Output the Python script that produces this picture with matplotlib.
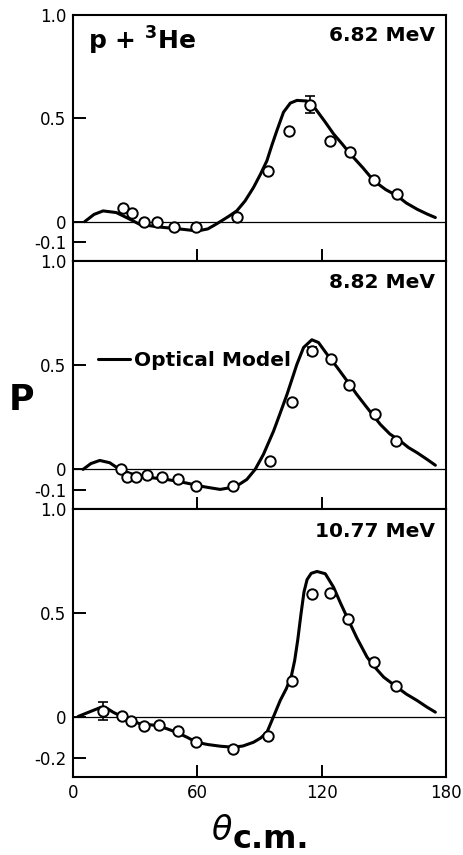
import matplotlib.pyplot as plt

# measured polarization data, theta c.m. in degrees
energies = ['6.82 MeV', '8.82 MeV', '10.77 MeV']

th_682 = [23.9, 28.5, 34.2, 40.3, 48.9, 59.5, 79.2, 93.9, 104.5, 114.2, 123.9, 133.9, 145.2, 156.5]
p_682 = [0.065, 0.044, -0.003, 0.0, -0.026, -0.026, 0.023, 0.247, 0.44, 0.565, 0.39, 0.337, 0.2, 0.135]
err_682 = [0, 0, 0, 0, 0, 0, 0, 0, 0, 0.04, 0, 0, 0, 0]

th_882 = [23.1, 26.0, 30.5, 35.8, 42.7, 50.6, 59.5, 77.3, 95.2, 105.5, 115.2, 124.5, 133.2, 146.0, 155.8]
p_882 = [0.003, -0.035, -0.037, -0.027, -0.035, -0.048, -0.08, -0.082, 0.04, 0.324, 0.569, 0.532, 0.405, 0.264, 0.136]
err_882 = [0, 0, 0, 0, 0, 0, 0, 0, 0, 0, 0.02, 0, 0, 0, 0]

th_1077 = [14.4, 23.5, 28.1, 34.4, 41.3, 50.8, 59.2, 77.4, 93.9, 105.6, 115.2, 123.9, 132.7, 145.3, 156.0]
p_1077 = [0.026, 0.003, -0.023, -0.045, -0.043, -0.071, -0.125, -0.158, -0.093, 0.169, 0.592, 0.595, 0.468, 0.262, 0.146]
err_1077 = [0.045, 0, 0, 0, 0, 0, 0, 0, 0, 0, 0, 0, 0, 0, 0]

# optical model curves
om_th_682 = [5.5, 10, 14.4, 20.8, 27.3, 32.1, 41.8, 53, 60, 65, 68, 71, 75, 79, 83, 87.1, 90.5, 93.6, 96,
             98.4, 101.6, 104.9, 108.1, 112.9, 117, 121.5, 125.8, 130, 133.9, 140, 145.2, 151, 156.5, 161,
             166.2, 171, 175]
om_p_682 = [0.0, 0.035, 0.052, 0.044, 0.012, -0.013, -0.026, -0.037, -0.045, -0.035, -0.018, 0.0, 0.025, 0.052,
            0.1, 0.165, 0.23, 0.295, 0.37, 0.44, 0.529, 0.573, 0.586, 0.583, 0.546, 0.485, 0.424, 0.375, 0.327,
            0.26, 0.198, 0.155, 0.125, 0.09, 0.06, 0.037, 0.02]

om_th_882 = [4.7, 8.5, 12.8, 17.6, 22.4, 27, 32.1, 38, 45, 51, 57.9, 61.3, 66, 71, 77.4, 80.5, 83.9, 87.9,
             91.9, 96.8, 100, 103.3, 108.1, 111.3, 115.3, 118.5, 122.6, 127.5, 132.3, 137, 142, 148.4, 153,
             158.1, 162, 166.2, 171, 175]
om_p_882 = [0.0, 0.028, 0.043, 0.032, 0.0, -0.018, -0.032, -0.04, -0.048, -0.058, -0.072, -0.08, -0.088,
            -0.096, -0.085, -0.07, -0.048, 0.0, 0.072, 0.184, 0.27, 0.36, 0.505, 0.585, 0.622, 0.609, 0.553,
            0.49, 0.425, 0.36, 0.296, 0.216, 0.17, 0.136, 0.105, 0.08, 0.048, 0.02]

om_th_1077 = [2.3, 6, 9.5, 13.5, 16.5, 19.2, 24, 28, 32.1, 40.2, 45, 49.9, 55, 59.5, 65, 71, 77.4, 82,
              87.1, 90.5, 93.6, 96.8, 100, 103, 105.5, 107, 108.5, 110, 111.5, 113, 115, 117.8, 121.8, 125.8,
              129, 132.3, 137, 142, 146, 150, 156.5, 161, 166.2, 171, 175]
om_p_1077 = [0.0, 0.015, 0.029, 0.045, 0.038, 0.021, -0.003, -0.018, -0.035, -0.043, -0.058, -0.076, -0.1,
             -0.124, -0.135, -0.143, -0.148, -0.142, -0.124, -0.104, -0.076, 0.0, 0.077, 0.135, 0.2, 0.27,
             0.37, 0.49, 0.6, 0.66, 0.69, 0.699, 0.688, 0.623, 0.55, 0.479, 0.38, 0.286, 0.235, 0.19, 0.141,
             0.108, 0.077, 0.045, 0.021]

panels = [
    (th_682, p_682, err_682, om_th_682, om_p_682, -0.19, [1.0, 0.5, 0.0, -0.1], ['1.0', '0.5', '0', '-0.1']),
    (th_882, p_882, err_882, om_th_882, om_p_882, -0.19, [1.0, 0.5, 0.0, -0.1], ['1.0', '0.5', '0', '-0.1']),
    (th_1077, p_1077, err_1077, om_th_1077, om_p_1077, -0.29, [1.0, 0.5, 0.0, -0.2], ['1.0', '0.5', '0', '-0.2']),
]

W, H = 463, 855
fig = plt.figure(figsize=(W / 100, H / 100), dpi=100)

# panel boxes in pixels: (top, bottom)
boxes = [(14.7, 261.0), (261.0, 509.0), (509.0, 776.7)]
left, right = 73.3, 445.7

axes = []
for i, (th, p, err, omth, omp, ylo, yt, ytl) in enumerate(panels):
    top, bot = boxes[i]
    ax = fig.add_axes([left / W, 1 - bot / H, (right - left) / W, (bot - top) / H])
    axes.append(ax)
    ax.axhline(0, color='black', lw=0.9, zorder=1)
    ax.plot(omth, omp, color='black', lw=2.2, solid_capstyle='round', solid_joinstyle='round',
            zorder=2, label='Optical Model')
    ax.plot(th, p, 'o', ms=7.5, mfc='white', mec='black', mew=1.4, zorder=4)
    # error bars only where given
    for t, v, e in zip(th, p, err):
        if e > 0:
            ax.errorbar([t], [v], yerr=[e], fmt='none', ecolor='black', elinewidth=1.2,
                        capsize=3.5, capthick=1.2, zorder=3)
    ax.set_xlim(0, 180)
    ax.set_ylim(ylo, 1.0)
    ax.set_yticks(yt)
    ax.set_yticklabels(ytl)
    ax.set_xticks([0, 60, 120, 180])
    ax.tick_params(direction='in', length=9, width=1.4, labelsize=12, pad=5)
    if i < 2:
        ax.tick_params(axis='x', labelbottom=False)
    for s in ax.spines.values():
        s.set_linewidth(1.5)
    ax.text(0.97, 0.915, energies[i], transform=ax.transAxes, ha='right', va='center',
            fontsize=14.5, fontweight='bold')

axes[0].text(0.04, 0.895, r'p + $^{\mathbf{3}}$He', transform=axes[0].transAxes, ha='left',
             va='center', fontsize=18, fontweight='bold')

axes[1].legend(loc='center left', bbox_to_anchor=(0.045, 0.6), frameon=False, handlelength=1.6,
               handletextpad=0.2, borderaxespad=0, prop={'size': 14.5, 'weight': 'bold'})

fig.text(22 / W, 1 - 400 / H, 'P', ha='center', va='center', fontsize=25, fontweight='bold')
fig.text(233 / W, 1 - 840 / H, r'$\theta$', ha='right', va='baseline', fontsize=24)
fig.text(233 / W, 1 - 848 / H, 'c.m.', ha='left', va='baseline', fontsize=23, fontweight='bold')

fig.savefig('out.png', dpi=100)
